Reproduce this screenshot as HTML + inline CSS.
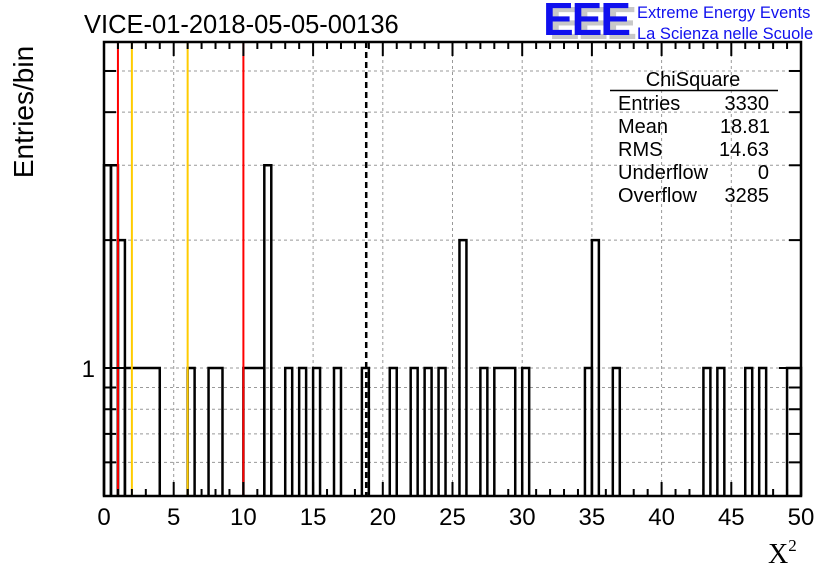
<!DOCTYPE html>
<html><head><meta charset="utf-8"><style>
html,body{margin:0;padding:0;background:#fff;}
svg{display:block;font-family:"Liberation Sans",sans-serif;}
</style></head><body>
<svg id="chart" width="836" height="572" viewBox="0 0 836 572">
<g id="grid"></g>
<g id="marks"></g>
<g id="axes"></g>
<text x="84" y="33" font-size="25.5">VICE-01-2018-05-05-00136</text>
<text x="0" y="0" font-size="28" transform="translate(33 112) rotate(-90)" text-anchor="middle">Entries/bin</text>
<text x="768" y="563" font-size="28" font-family="Liberation Serif,serif">X<tspan font-size="17" dy="-12">2</tspan></text>
<g>
<text x="549" y="39" font-size="46" font-weight="bold" fill="#c8c8c8" letter-spacing="-2">EEE</text>
<text x="543" y="35" font-size="46" font-weight="bold" fill="#1010ee" letter-spacing="-2">EEE</text>
<text x="637" y="18" font-size="16.5" fill="#1010ee">Extreme Energy Events</text>
<text x="637" y="39" font-size="16.5" fill="#1010ee">La Scienza nelle Scuole</text>
</g>
<g font-size="20">
<text x="693" y="86" text-anchor="middle">ChiSquare</text>
<line x1="610" y1="90.5" x2="778" y2="90.5" stroke="#000" stroke-width="1.5"/>
<text x="618" y="110">Entries</text><text x="769" y="110" text-anchor="end">3330</text>
<text x="618" y="133">Mean</text><text x="770" y="133" text-anchor="end">18.81</text>
<text x="618" y="156">RMS</text><text x="769" y="156" text-anchor="end">14.63</text>
<text x="618" y="179">Underflow</text><text x="769" y="179" text-anchor="end">0</text>
<text x="618" y="202">Overflow</text><text x="769" y="202" text-anchor="end">3285</text>
</g>
</svg>
<script>
const binEdges = [0,0.5,1,1.5,4,6,6.5,7.5,8.5,10,11.5,12,13,13.5,14,14.5,15,15.5,16.5,17,18.5,19,20.5,21,22,22.5,23,23.5,24,24.5,25.5,26,27,27.5,28,29.5,30,30.5,34.5,35,35.5,36.5,37,43,43.5,44,44.5,46,46.5,47,47.5,49,50];
const binValues = [3,3,2,1,0,1,0,1,0,1,3,0,1,0,1,0,1,0,1,0,1,0,1,0,1,0,1,0,1,0,2,0,1,0,1,0,1,0,1,2,0,1,0,1,0,1,0,1,0,1,0,1];
const xTicks = [0,5,10,15,20,25,30,35,40,45,50];
const yTicks = [0.6,0.7,0.8,0.9,1,2,3,4,5];
const yLabels = [1];
const redLines = [1,10];
const yellowLines = [2,6];
const meanValue = 18.81;

const X0=104,X1=801,Y0=496,Y1=42,XMIN=0,XMAX=50,YMIN=0.5,YMAX=5.85;
const NS='http://www.w3.org/2000/svg';
function xs(v){return X0+(v-XMIN)/(XMAX-XMIN)*(X1-X0);}
function ys(v){if(v<=0)return Y0;return Y0-(Math.log10(v)-Math.log10(YMIN))/(Math.log10(YMAX)-Math.log10(YMIN))*(Y0-Y1);}
function mk(tag,attrs,parent){const e=document.createElementNS(NS,tag);for(const k in attrs)e.setAttribute(k,attrs[k]);parent.appendChild(e);return e;}
const grid=document.getElementById('grid'),marks=document.getElementById('marks'),axes=document.getElementById('axes');
xTicks.forEach(t=>{if(t>XMIN&&t<XMAX){const l=mk('line',{x1:xs(t),x2:xs(t),y1:Y1,y2:Y0,stroke:'#999','stroke-dasharray':'3,3','stroke-width':1},grid);

}});
yTicks.forEach(t=>{const l=mk('line',{x1:X0,x2:X1,y1:ys(t),y2:ys(t),stroke:'#999','stroke-dasharray':'3,3','stroke-width':1},grid);

});
// each bin drawn as its own outlined column (vertical edges at every non-empty bin)
for(let i=0;i<binValues.length;i++){
  if(binValues[i]<=0)continue;
  const xa=xs(binEdges[i]),xb=xs(binEdges[i+1]),y=ys(binValues[i]);
  const p=mk('path',{d:'M'+xa+','+Y0+' L'+xa+','+y+' L'+xb+','+y+' L'+xb+','+Y0,fill:'none',stroke:'#000','stroke-width':2.5},marks);
  
  
}
redLines.forEach(v=>{const l=mk('line',{x1:xs(v),x2:xs(v),y1:Y1,y2:Y0,stroke:'#f00','stroke-width':2},marks);

});
yellowLines.forEach(v=>{const l=mk('line',{x1:xs(v),x2:xs(v),y1:Y1,y2:Y0,stroke:'#fc0','stroke-width':2},marks);

});
const ml=mk('line',{x1:xs(meanValue),x2:xs(meanValue),y1:Y1,y2:Y0,stroke:'#000','stroke-width':2.5,'stroke-dasharray':'6,4'},marks);


const fr=mk('rect',{x:X0,y:Y1,width:X1-X0,height:Y0-Y1,fill:'none',stroke:'#000','stroke-width':2.5},axes);


for(let v=XMIN;v<=XMAX;v++){const major=v%5===0;const L=major?14:7;
mk('line',{x1:xs(v),x2:xs(v),y1:Y0,y2:Y0-L,stroke:'#000','stroke-width':2},axes);
mk('line',{x1:xs(v),x2:xs(v),y1:Y1,y2:Y1+L,stroke:'#000','stroke-width':2},axes);}
xTicks.forEach(t=>{const tx=mk('text',{x:xs(t),y:Y0+29,'font-size':24,'text-anchor':'middle'},axes);tx.textContent=t;

});
yTicks.forEach(t=>{const L=t===1?22:12;
mk('line',{x1:X0,x2:X0+L,y1:ys(t),y2:ys(t),stroke:'#000','stroke-width':2},axes);
mk('line',{x1:X1,x2:X1-L,y1:ys(t),y2:ys(t),stroke:'#000','stroke-width':2},axes);});
yLabels.forEach(t=>{const tx=mk('text',{x:X0-9,y:ys(t)+9,'font-size':24,'text-anchor':'end'},axes);tx.textContent=t;

});
</script>
</body></html>
